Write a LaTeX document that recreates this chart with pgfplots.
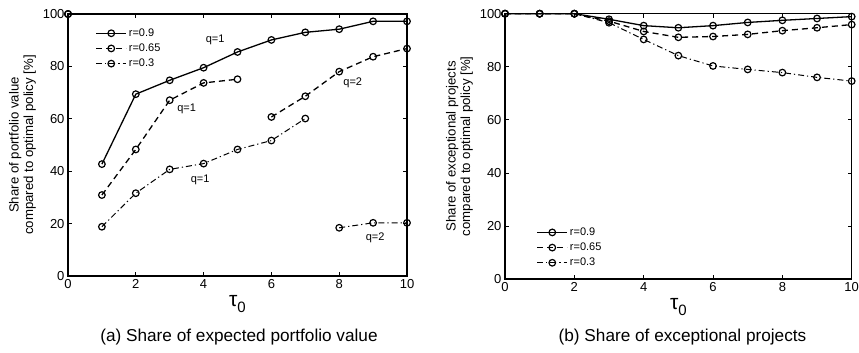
\documentclass[border=0pt]{standalone}
\usepackage{pgfplots}
\pgfplotsset{compat=1.18}
\usepackage{fontspec}
\setmainfont{Liberation Sans}
\pgfplotsset{
 myax/.style={scale only axis, clip=false, xmin=0,xmax=10,ymin=0,ymax=100,
  xtick={0,2,...,10}, ytick={0,20,...,100}, tick align=inside,
  axis line style={line width=1.1pt}, major tick length=4pt,
  tick style={line width=0.7pt, black},
  ticklabel style={font=\fontsize{13}{14}\selectfont},
  /pgf/number format/assume math mode=true,
  xlabel={{\fontsize{21}{22}\selectfont τ}\raisebox{-6pt}{\fontsize{15}{15}\selectfont 0}}, xlabel style={yshift=0pt},
  ylabel style={align=center, font=\fontsize{13.2}{14.5}\selectfont},
  legend style={draw=none, fill=none, font=\fontsize{11}{13}\selectfont, row sep=2pt},
  legend cell align=left, unbounded coords=jump,
  legend image code/.code={\draw[mark repeat=2,mark phase=2] plot coordinates {(0pt,0pt)(15pt,0pt)(30pt,0pt)};},
 },
 sa/.style={black, line width=1.3pt, mark=o, mark size=3.3pt, mark options={solid, line width=1.2pt}},
 sb/.style={black, line width=1.3pt, dash pattern=on 6pt off 4pt, mark=o, mark size=3.3pt, mark options={solid, line width=1.2pt}},
 sc/.style={black, line width=1pt, dash pattern=on 6pt off 3pt on 1.2pt off 3pt, mark=o, mark size=3.3pt, mark options={solid, line width=1.2pt}},
}
\begin{document}
\begin{tikzpicture}
\path[use as bounding box] (0pt,0pt) rectangle (859pt,353pt);
\begin{axis}[myax, at={(68pt,77pt)}, anchor=south west, width=339pt, height=262pt,
  ylabel={Share of portfolio value\\compared to optimal policy [\%]},
  legend style={at={(0.072,0.96)}, anchor=north west}]
\addplot[sa] coordinates {(0,100) (0.5,nan) (1,42.7) (2,69.4) (3,74.7) (4,79.5) (5,85.5) (6,90.1) (7,93.0) (8,94.2) (9,97.2) (10,97.2)};
\addplot[sb] coordinates {(0,100) (0.5,nan) (1,30.9) (2,48.3) (3,67.1) (4,73.7) (5,75.1) (5.5,nan) (6,60.7) (7,68.6) (8,78.0) (9,83.7) (10,86.8)};
\addplot[sc] coordinates {(0,100) (0.5,nan) (1,18.8) (2,31.6) (3,40.7) (4,42.9) (5,48.3) (6,51.7) (7,60.1) (7.5,nan) (8,18.4) (9,20.3) (10,20.3)};
\legend{r=0.9, r=0.65, r=0.3}
\node[font=\fontsize{11}{13}\selectfont] at (axis cs:4.34,90.3) {q=1};
\node[font=\fontsize{11}{13}\selectfont] at (axis cs:3.5,63.7) {q=1};
\node[font=\fontsize{11}{13}\selectfont] at (axis cs:3.9,36.6) {q=1};
\node[font=\fontsize{11}{13}\selectfont] at (axis cs:8.4,73.6) {q=2};
\node[font=\fontsize{11}{13}\selectfont] at (axis cs:9.06,14.5) {q=2};
\end{axis}
\begin{axis}[myax, at={(505pt,74pt)}, anchor=south west, width=346.7pt, height=265.3pt,
  ylabel={Share of exceptional projects\\compared to optimal policy [\%]},
  legend style={at={(0.082,0.028)}, anchor=south west}]
\addplot[sa] coordinates {(0,100) (1,100) (2,100) (3,97.9) (4,95.5) (5,94.7) (6,95.5) (7,96.7) (8,97.5) (9,98.2) (10,98.9)};
\addplot[sb] coordinates {(0,100) (1,100) (2,100) (3,97.2) (4,93.3) (5,91.1) (6,91.4) (7,92.2) (8,93.6) (9,94.7) (10,95.9)};
\addplot[sc] coordinates {(0,100) (1,100) (2,100) (3,96.6) (4,90.3) (5,84.2) (6,80.3) (7,79.0) (8,77.8) (9,76.0) (10,74.6)};
\legend{r=0.9, r=0.65, r=0.3}
\end{axis}
\node[font=\fontsize{17.2}{19}\selectfont] at (239pt,16pt) {(a) Share of expected portfolio value};
\node[font=\fontsize{17.2}{19}\selectfont] at (682.5pt,16pt) {(b) Share of exceptional projects};
\end{tikzpicture}
\end{document}
